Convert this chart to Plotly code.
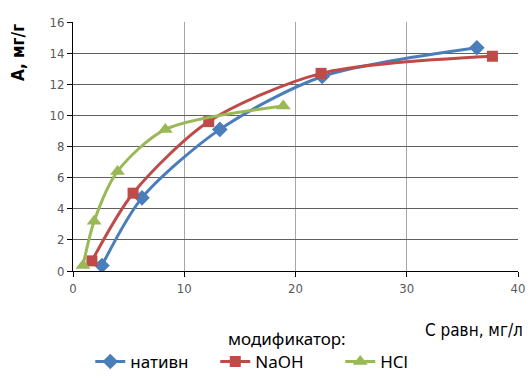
import plotly.graph_objects as go

x_nat = [2.6, 6.2, 13.2, 22.4, 36.3]
y_nat = [0.35, 4.7, 9.1, 12.5, 14.35]
x_naoh = [1.7, 5.4, 12.2, 22.3, 37.7]
y_naoh = [0.65, 5.0, 9.6, 12.7, 13.8]
x_hcl = [0.9, 1.9, 4.0, 8.3, 18.9]
y_hcl = [0.35, 3.2, 6.4, 9.1, 10.6]
names = ["нативн", "NaOH", "HCl"]
colors = ["#4a7ebb", "#be4b48", "#98b954"]
symbols = ["diamond", "square", "triangle-up"]
msizes = [12, 11, 13]

fig = go.Figure()
for xs, ys, n, c, s, ms in zip([x_nat, x_naoh, x_hcl], [y_nat, y_naoh, y_hcl], names, colors, symbols, msizes):
    fig.add_trace(go.Scatter(
        x=xs, y=ys, name=n, mode="lines+markers",
        line=dict(color=c, width=3, shape="spline", smoothing=0.8),
        marker=dict(symbol=s, size=ms, color=c),
    ))

tickfont = dict(family="DejaVu Sans Condensed", size=13, color="#595959")
fig.update_layout(
    width=531, height=380,
    margin=dict(l=73, r=13, t=22, b=109, autoexpand=False),
    paper_bgcolor="white", plot_bgcolor="white",
    showlegend=True,
    legend=dict(orientation="h", xref="container", yref="container",
                x=0.17, xanchor="left", y=-0.025, yanchor="bottom",
                font=dict(family="Noto Sans", size=17, color="#000000"),
                entrywidth=80, entrywidthmode="pixels", tracegroupgap=0),
    xaxis=dict(range=[0, 40], dtick=10, showgrid=True, gridcolor="#a6a6a6", gridwidth=1,
               showline=True, linecolor="#000000", ticks="outside", ticklen=5,
               tickcolor="#000000", tickfont=tickfont, zeroline=False),
    yaxis=dict(range=[0, 16], dtick=2, showgrid=True, gridcolor="#606060", gridwidth=1,
               showline=True, linecolor="#000000", ticks="outside", ticklen=5,
               tickcolor="#000000", tickfont=tickfont, zeroline=False),
    annotations=[
        dict(text="<b>А, мг/г</b>", xref="paper", yref="paper", x=-0.125, y=1.0,
             xanchor="center", yanchor="top", textangle=-90, showarrow=False,
             font=dict(family="DejaVu Sans Condensed", size=17, color="#000000")),
        dict(text="С равн, мг/л", xref="paper", yref="paper", x=1.015, y=-0.19,
             xanchor="right", yanchor="top", showarrow=False,
             font=dict(family="DejaVu Sans Condensed", size=17, color="#000000")),
        dict(text="модификатор:", xref="paper", yref="paper", x=0.48, y=-0.215,
             xanchor="center", yanchor="top", showarrow=False,
             font=dict(family="Noto Sans", size=17, color="#000000")),
    ],
)
fig.write_html("out.html")
